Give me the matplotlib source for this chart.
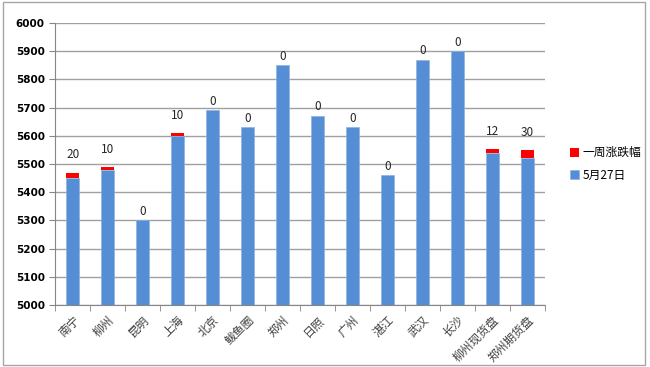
import matplotlib.pyplot as plt
import numpy as np
from matplotlib.patches import Rectangle

plt.rcParams['font.family'] = ['Noto Sans CJK SC', 'DejaVu Sans']

cities = ['南宁', '柳州', '昆明', '上海', '北京', '鲅鱼圈', '郑州', '日照',
          '广州', '湛江', '武汉', '长沙', '柳州现货盘', '郑州期货盘']
price_0527 = [5450, 5480, 5300, 5600, 5690, 5630, 5850, 5670,
              5630, 5460, 5870, 5900, 5540, 5520]
weekly_change = [20, 10, 0, 10, 0, 0, 0, 0, 0, 0, 0, 0, 12, 30]

blue = '#558ed5'
red = '#ff0000'

fig = plt.figure(figsize=(6.5, 3.67), dpi=100)
fig.patches.append(Rectangle((0.004, 0.006), 0.988, 0.988, transform=fig.transFigure,
                             fill=False, edgecolor='#a6a6a6', linewidth=1))
ax = fig.add_axes([0.085, 0.169, 0.753, 0.768])

x = np.arange(len(cities))
ax.bar(x, price_0527, width=0.38, color=blue, edgecolor='#8db3e2', linewidth=0.5,
       label='5月27日', zorder=3)
ax.bar(x, weekly_change, bottom=price_0527, width=0.38, color=red, linewidth=0,
       label='一周涨跌幅', zorder=3)

# labels for the weekly change sit above each stack
for xi, base, ch in zip(x, price_0527, weekly_change):
    off = 8 if ch else 2
    ax.annotate(str(ch), (xi, base + ch), xytext=(0, off), textcoords='offset points',
                ha='center', va='bottom', fontsize=8.5, color='#262626')

ax.set_ylim(5000, 6000)
ax.set_yticks(range(5000, 6001, 100))
ax.set_xlim(-0.5, len(cities) - 0.5)
ax.yaxis.grid(True, color='#a0a0a0', linewidth=1, zorder=0)
ax.set_axisbelow(True)
for s in ['top', 'right']:
    ax.spines[s].set_visible(False)
for s in ['left', 'bottom']:
    ax.spines[s].set_color('#868686')

ax.set_xticks(x)
ax.set_xticklabels(cities, rotation=45, ha='right', rotation_mode='anchor',
                   fontsize=8.5, color='#404040')
ax.set_xticks(np.arange(-0.5, len(cities)), minor=True)
ax.tick_params(axis='x', which='major', length=0, pad=6)
ax.tick_params(axis='x', which='minor', length=4, color='#868686')
ax.tick_params(axis='y', length=4, color='#868686', labelsize=7.5)
for t in ax.get_yticklabels():
    t.set_fontweight('bold')
    t.set_family('DejaVu Sans')

handles, labels = ax.get_legend_handles_labels()
ax.legend(handles[::-1], labels[::-1], loc='center left', bbox_to_anchor=(1.03, 0.5),
          frameon=False, fontsize=8.5, handlelength=0.8, handleheight=0.8,
          handletextpad=0.3, labelspacing=0.8)

fig.savefig('out.png', dpi=100)
